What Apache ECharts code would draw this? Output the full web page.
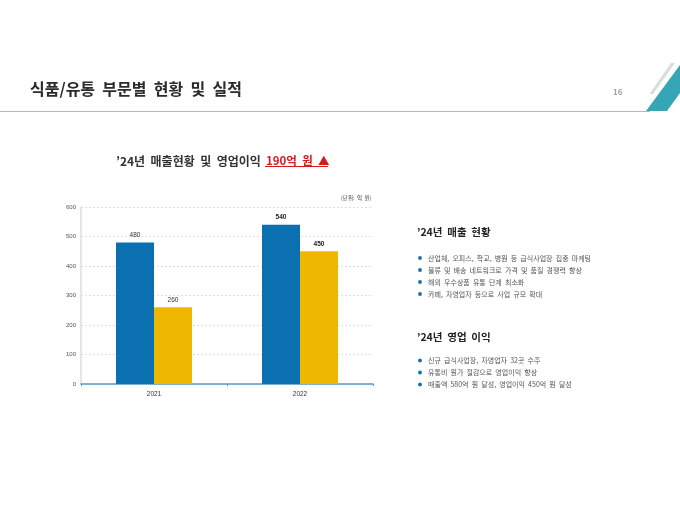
<!DOCTYPE html>
<html><head><meta charset="utf-8">
<style>html,body{margin:0;padding:0;background:#fff}#c{width:680px;height:510px}</style>
<script src="https://cdn.jsdelivr.net/npm/echarts@6/dist/echarts.min.js"></script>
</head><body><div id="c"></div>
<script>
const categories = ['2021', '2022'];
const salesValues = [480, 540];
const profitValues = [260, 450];
const yTicks = [0, 100, 200, 300, 400, 500, 600];
const pageTitle = '식품/유통 부문별 현황 및 실적';
const pageNumber = '16';
const chartTitleLead = '’24년 매출현황 및 영업이익';
const chartTitleHot = '190억 원 ▲';
const unitLabel = '(단위: 억 원)';
const salesHeading = '’24년 매출 현황';
const salesBullets = ['산업체, 오피스, 학교, 병원 등 급식사업장 집중 마케팅','물류 및 배송 네트워크로 가격 및 품질 경쟁력 향상','해외 우수상품 유통 단계 최소화','카페, 자영업자 등으로 사업 규모 확대'];
const profitHeading = '’24년 영업 이익';
const profitBullets = ['신규 급식사업장, 자영업자 32곳 수주','유통비 원가 절감으로 영업이익 향상','매출액 580억 원 달성, 영업이익 450억 원 달성'];
const FONT = '"Noto Sans CJK KR","Noto Sans",sans-serif';
const NUMFONT = '"Liberation Sans",Arial,sans-serif';
const BLUE = '#0b70b0', YEL = '#eeb800';
const wide = s => s.replace(/ /g, '  ');

function text(x, y, t, size, color, weight, extra) {
  return {type:'text', x, y, silent:true, style:Object.assign({text:t, fontFamily:FONT, fontSize:size, fill:color, fontWeight:weight||'normal', textVerticalAlign:'middle'}, extra||{})};
}
const g = [
  {type:'line', silent:true, shape:{x1:0,y1:111.5,x2:650,y2:111.5}, style:{stroke:'#8cc8d2',lineWidth:1}},
  {type:'polygon', silent:true, shape:{points:[[646,111],[667,111],[680,93],[680,65]]}, style:{fill:'#35a6b5'}},
  {type:'polygon', silent:true, shape:{points:[[649.5,94],[653,94],[675,63],[671,63]]}, style:{fill:'#dcdcdc'}},
  text(30, 89, wide(pageTitle), 16, '#2b2b2b', 'bold'),
  text(613, 92, pageNumber, 8, '#a0a0a0', 'bold'),
  text(116, 161, wide(chartTitleLead), 12, '#333', 'bold'),
  text(266, 161, wide(chartTitleHot), 11.5, '#d71920', 'bold'),
  {type:'line', silent:true, shape:{x1:265,y1:166.5,x2:328,y2:166.5}, style:{stroke:'#d71920',lineWidth:1}},
  text(341, 198, wide(unitLabel), 5.5, '#444'),
  text(417, 232, wide(salesHeading), 10.5, '#222', 'bold'),
  text(417, 337, wide(profitHeading), 10.5, '#222', 'bold')
];
function bullets(list, y0, step) {
  list.forEach((t, i) => {
    const y = y0 + i * step;
    g.push({type:'circle', silent:true, shape:{cx:420, cy:y, r:1.9}, style:{fill:'#1b6ea8'}});
    g.push(text(428, y, wide(t), 7, '#555'));
  });
}
bullets(salesBullets, 258, 12);
bullets(profitBullets, 360.5, 12);

const labelCfg = {show:true, position:'top', distance:4, fontFamily:NUMFONT, fontSize:6.5, color:'#333',
  formatter:p => p.dataIndex === 1 ? '{b|'+p.value+'}' : ''+p.value,
  rich:{b:{fontWeight:'bold', fontFamily:NUMFONT, fontSize:6.5, color:'#222'}}};

const chart = echarts.init(document.getElementById('c'), null, {renderer:'canvas'});
chart.setOption({
  animation:false,
  backgroundColor:'#fff',
  textStyle:{fontFamily:FONT},
  grid:{left:81, top:207, width:292, height:177, containLabel:false},
  xAxis:{type:'category', data:categories,
    axisLine:{lineStyle:{color:'#5b9bc0', width:1.5}},
    axisTick:{show:true, alignWithLabel:false, length:2, lineStyle:{color:'#5b9bc0'}},
    axisLabel:{color:'#333', fontFamily:NUMFONT, fontSize:6.5, margin:7}},
  yAxis:{type:'value', min:yTicks[0], max:yTicks[yTicks.length-1], interval:100,
    axisLine:{show:true, lineStyle:{color:'#dcdcdc', width:1.5}},
    axisTick:{show:false},
    axisLabel:{color:'#555', fontFamily:NUMFONT, fontSize:6, margin:5},
    splitLine:{lineStyle:{color:'#d2d2d2', type:[2,2], width:0.7}}},
  series:[
    {name:'매출', type:'bar', data:salesValues, barWidth:38, barGap:0, itemStyle:{color:BLUE}, label:labelCfg},
    {name:'영업이익', type:'bar', data:profitValues, barWidth:38, barGap:0, itemStyle:{color:YEL}, label:labelCfg}
  ],
  graphic:g
});
</script></body></html>
